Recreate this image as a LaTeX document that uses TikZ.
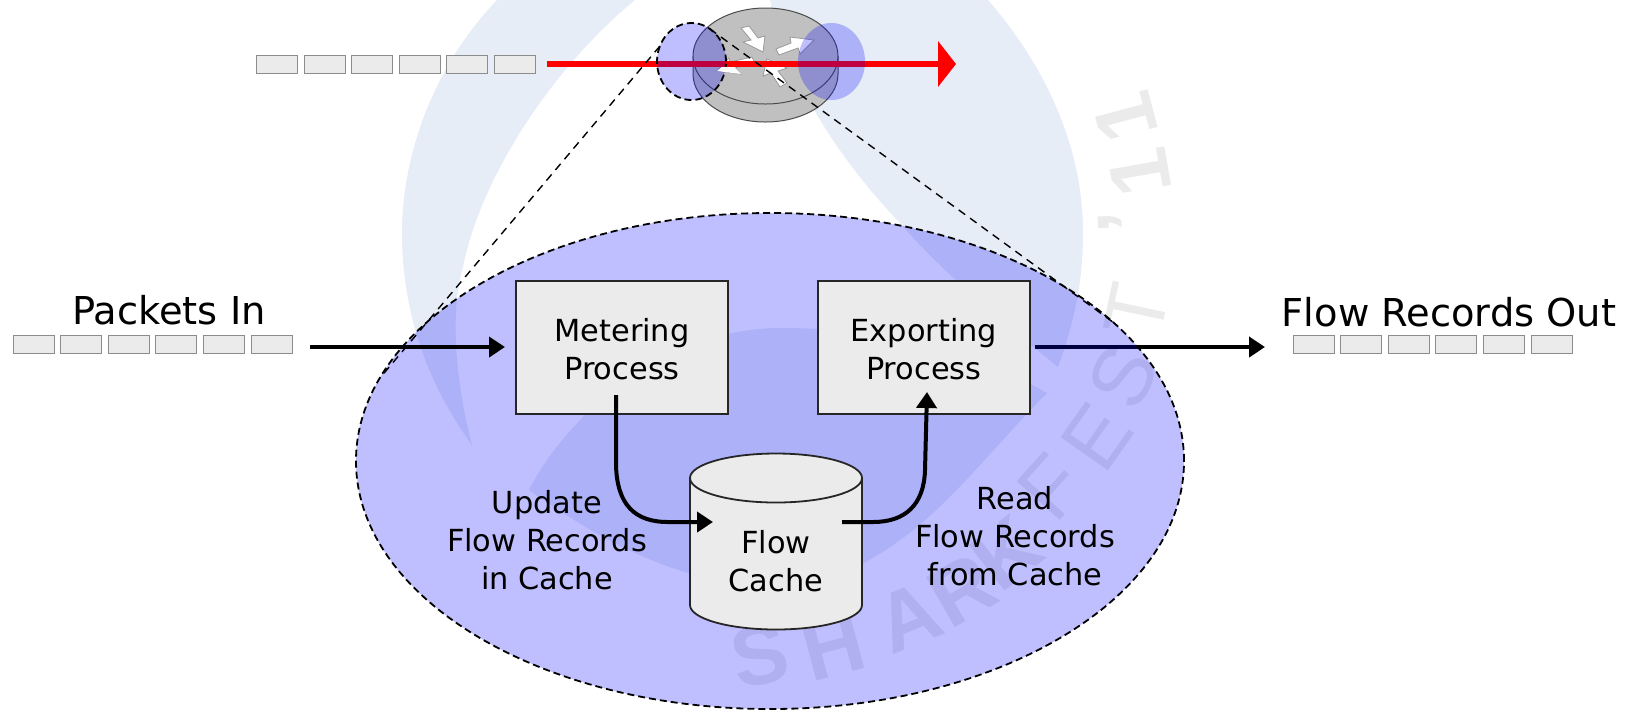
\documentclass[tikz,border=0pt]{standalone}
\usepackage{fontspec}
\setmainfont{DejaVu Sans}
\newfontfamily\markfont{Liberation Sans}
\usepackage{xcolor}
\usepackage{tikz}
\usetikzlibrary{arrows.meta,shapes.geometric}

\definecolor{markblue}{RGB}{230,237,246}
\definecolor{markgray}{RGB}{235,235,235}
\definecolor{boxgray}{RGB}{235,235,235}
\definecolor{routergray}{RGB}{192,192,192}

\tikzset{
  pkt/.style={draw=black!45,fill=boxgray,line width=.5pt,minimum width=20.5pt,minimum height=9pt,inner sep=0pt,outer sep=0pt},
  proc/.style={draw=black!85,fill=boxgray,line width=.9pt,minimum width=106pt,minimum height=66.5pt,inner sep=0pt,outer sep=0pt,align=center,font=\fontsize{15.2}{19}\selectfont},
  lbl/.style={align=center,inner sep=0pt,font=\fontsize{15.2}{19}\selectfont},
  biglbl/.style={inner sep=0pt,font=\fontsize{19.2}{23}\selectfont},
  zone/.style={ellipse,fill=blue,fill opacity=.25,inner sep=0pt,outer sep=0pt},
  probe/.style={zone,draw=black,line width=.9pt,dash pattern=on 3.5pt off 2pt},
  zoomline/.style={line width=.7pt,dash pattern=on 4pt off 3pt},
  flow/.style={line width=2pt,-{Triangle[length=8pt,width=10pt]}},
  wmark/.style={text=markgray,inner sep=0pt,font=\markfont\fontsize{42}{42}\selectfont},
  rarrow/.style={draw=black!40,fill=white,line width=.4pt}
}

\newcommand{\pktrow}[3]{\foreach \i in {1,...,6} \node (#1\i) [pkt] at ({#2+47.6*(\i-1)},#3) {};}

\begin{document}
\begin{tikzpicture}[x=.5pt,y=-.5pt]
\useasboundingbox (0,0) rectangle (1632,709);

\fill[markblue] (497,0) .. controls (430,70) and (402,160) .. (402,233) .. controls (402,320) and (432,390) .. (472,445)
  .. controls (455,380) and (450,310) .. (463,267) .. controls (480,180) and (550,70) .. (635,0) -- cycle;
\fill[markblue] (770,0) .. controls (785,70) and (830,150) .. (900,223) .. controls (940,270) and (1000,320) .. (1058,367)
  .. controls (1075,320) and (1083,280) .. (1083,233) .. controls (1083,140) and (1040,60) .. (988,0) -- cycle;
\fill[markblue] (529,490) .. controls (570,410) and (670,328) .. (780,328) .. controls (880,328) and (970,350) .. (1047,393)
  .. controls (1000,440) and (950,505) .. (900,540) .. controls (860,570) and (820,585) .. (770,585)
  .. controls (680,585) and (600,540) .. (529,490) -- cycle;
\foreach \ltr/\px/\py/\rot [count=\n] in {S/760/655/12,H/833/647/15,A/909/617/22,R/962/590/30,K/1007/553/38}
  \node (bold\n) [wmark,rotate=\rot] at (\px,\py) {\bfseries\ltr};
\foreach \ltr/\px/\py/\rot [count=\n] in {F/1051/487/48,E/1097/437/55,S/1123/377/65,T/1137/310/78}
  \node (thin\n) [wmark,rotate=\rot] at (\px,\py) {\ltr};
\foreach \ltr/\px/\py/\rot [count=\n] in {’/1127/222/92,1/1140/173/100,1/1126/117/105}
  \node (year\n) [wmark,rotate=\rot] at (\px,\py) {\bfseries\ltr};

\pktrow{top}{277}{64}
\pktrow{pktin}{33.5}{344}
\pktrow{pktout}{1313.5}{344}

\coordinate (expout) at (1035,347);
\coordinate (meterin) at (310,347);
\draw[flow,shorten >=14pt] (expout) -- (expout-|pktout1.west);

\node (meter) [probe,minimum width=414pt,minimum height=248pt] at (770,461) {};

\draw[draw=black!70,fill=routergray,line width=.5pt] (693,56) -- (693,74) arc[start angle=180,end angle=0,x radius=72.5,y radius=48] -- (838,56);
\node (routertop) [ellipse,draw=black!70,fill=routergray,line width=.5pt,minimum width=72.5pt,minimum height=48pt,inner sep=0pt,outer sep=0pt] at (765.5,56) {};
\draw[rarrow] (741,28) -- (749,26) -- (758,38) -- (765,36) -- (763,52) -- (743,42) -- (751,40) -- cycle;
\draw[rarrow] (776,49) -- (791,43) -- (790,37) -- (814,40) -- (800,54) -- (798,48) -- (779,55) -- cycle;
\draw[rarrow] (717,71) -- (729,58) -- (730,62) -- (752,57) -- (755,63) -- (735,68) -- (741,74) -- cycle;
\draw[rarrow] (767,59) -- (787,68) -- (778,71) -- (787,83) -- (780,87) -- (771,73) -- (763,76) -- cycle;

\coordinate (redstart) at (547,64);
\coordinate (redend) at (956,64);
\draw[red,line width=3.3pt,-{Triangle[length=9pt,width=22.5pt]}] (redstart) -- (redend);

\node (ingress) [probe,minimum width=34.5pt,minimum height=38.5pt] at (691.5,61.5) {};
\node (egress) [zone,minimum width=33.5pt,minimum height=38.5pt] at (831.5,61.5) {};
\fill[white] (722,67) -- (717,71) -- (741,74) -- (735,68) -- (734,67) -- cycle;

\draw[zoomline] (ingress.154) -- (meter.168);
\draw[zoomline] (ingress.61) -- (meter.22);

\node (metering) [proc] at (622,347.5) {\rule{0pt}{13pt}Metering\\Process};
\node (exporting) [proc] at (923.75,347.5) {\rule{0pt}{13pt}Exporting\\Process};

\draw[draw=black!85,fill=boxgray,line width=.9pt] (690,478) -- (690,605) arc[start angle=180,end angle=0,x radius=86,y radius=24.5] -- (862,478);
\node (cachetop) [ellipse,draw=black!85,fill=boxgray,line width=.9pt,minimum width=86pt,minimum height=24.5pt,inner sep=0pt,outer sep=0pt] at (776,478) {};
\node (cache) [lbl] at (776,561) {Flow\\Cache};

\node (update) [lbl] at (547,540) {Update\\Flow Records\\in Cache};
\node (read) [lbl] at (1015,536) {Read\\Flow Records\\from Cache};
\node (packetsin) [biglbl] at (169,310) {Packets In};
\node (recordsout) [biglbl] at (1449,312) {Flow Records Out};

\coordinate (meterout) at (616,395);
\coordinate (cachein) at (713,522);
\coordinate (cacheout) at (842,522);
\coordinate (expin) at (927,392);

\draw[flow,shorten >=5.5pt] (meterin) -- (meterin-|metering.west);
\draw[flow] (meterout) -- (616,465) .. controls (617,505) and (635,522) .. (668,522) -- (cachein);
\draw[flow] (cacheout) -- (873,522) .. controls (905,522) and (924,505) .. (925,470) -- (expin);
\end{tikzpicture}
\end{document}
